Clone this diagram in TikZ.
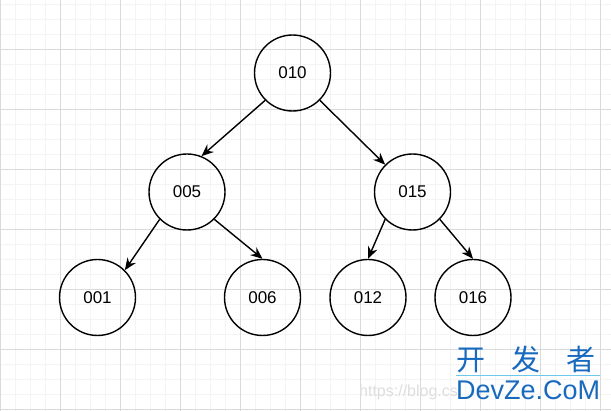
\documentclass[tikz,border=0pt]{standalone}
\usepackage{fontspec}
\setmainfont{Liberation Sans}
\newfontfamily\cjkfont{Noto Sans CJK SC}
\usetikzlibrary{arrows.meta}

\definecolor{gridminor}{RGB}{244,244,244}
\definecolor{gridmajor}{RGB}{218,218,218}
\definecolor{logoblue}{RGB}{24,106,190}
\definecolor{logoline}{RGB}{110,200,235}
\definecolor{urlgray}{RGB}{222,222,222}

\tikzset{
    keynode/.style={circle, draw, line width=1.4pt, minimum size=76pt, inner sep=0pt,
        font=\fontsize{17}{20}\selectfont},
    treeedge/.style={line width=1.4pt, -{Stealth[length=12pt, width=10pt, inset=4pt]}}
}

\begin{document}
\begin{tikzpicture}[x=1pt, y=-1pt]

    % Page size
    \useasboundingbox (0,0) rectangle (611,411);
    \fill[white] (0,0) rectangle (611,411);

    % Background grid: thin lines every 15, darker every 60
    \foreach \x in {0,15,...,611} \draw[gridminor, line width=1pt] (\x,0) -- (\x,411);
    \foreach \y in {5,20,...,411} \draw[gridminor, line width=1pt] (0,\y) -- (611,\y);
    \foreach \x in {0,60,...,611} \draw[gridmajor, line width=1pt] (\x,0) -- (\x,411);
    \foreach \y in {50,110,...,411} \draw[gridmajor, line width=1pt] (0,\y) -- (611,\y);

    % Keys of the tree
    \node[keynode] (k010) at (292.5,73) {010};
    \node[keynode] (k005) at (187,192) {005};
    \node[keynode] (k015) at (412.5,192) {015};
    \node[keynode] (k001) at (97.5,297.5) {001};
    \node[keynode] (k006) at (262.5,297.5) {006};
    \node[keynode] (k012) at (368,297.5) {012};
    \node[keynode] (k016) at (473,297.5) {016};

    % Links from parent to child
    \draw[treeedge] (k010.225) -- (k005.68);
    \draw[treeedge] (k010.315) -- (k015.135);
    \draw[treeedge] (k005.225) -- (k001.45);
    \draw[treeedge] (k005.315) -- (k006.north);
    \draw[treeedge] (k015.225) -- (k012.north);
    \draw[treeedge] (k015.315) -- (k016.north);

    % Watermark
    \node[anchor=base west, inner sep=0pt, text=urlgray, font=\fontsize{16}{16}\selectfont]
        (url) at (359,397) {https://blog.cs};
    \node[anchor=base west, inner sep=0pt, text=logoblue, font=\fontsize{29}{29}\selectfont]
        (logocn) at (456,371) {\cjkfont 开\hspace{26pt}发\hspace{26pt}者};
    \draw[logoline, line width=1pt] (456,376) -- (600,376);
    \node[anchor=base west, inner sep=0pt, text=logoblue, font=\fontsize{27}{27}\selectfont]
        (logoen) at (456,400) {DevZe.CoM};

\end{tikzpicture}
\end{document}
